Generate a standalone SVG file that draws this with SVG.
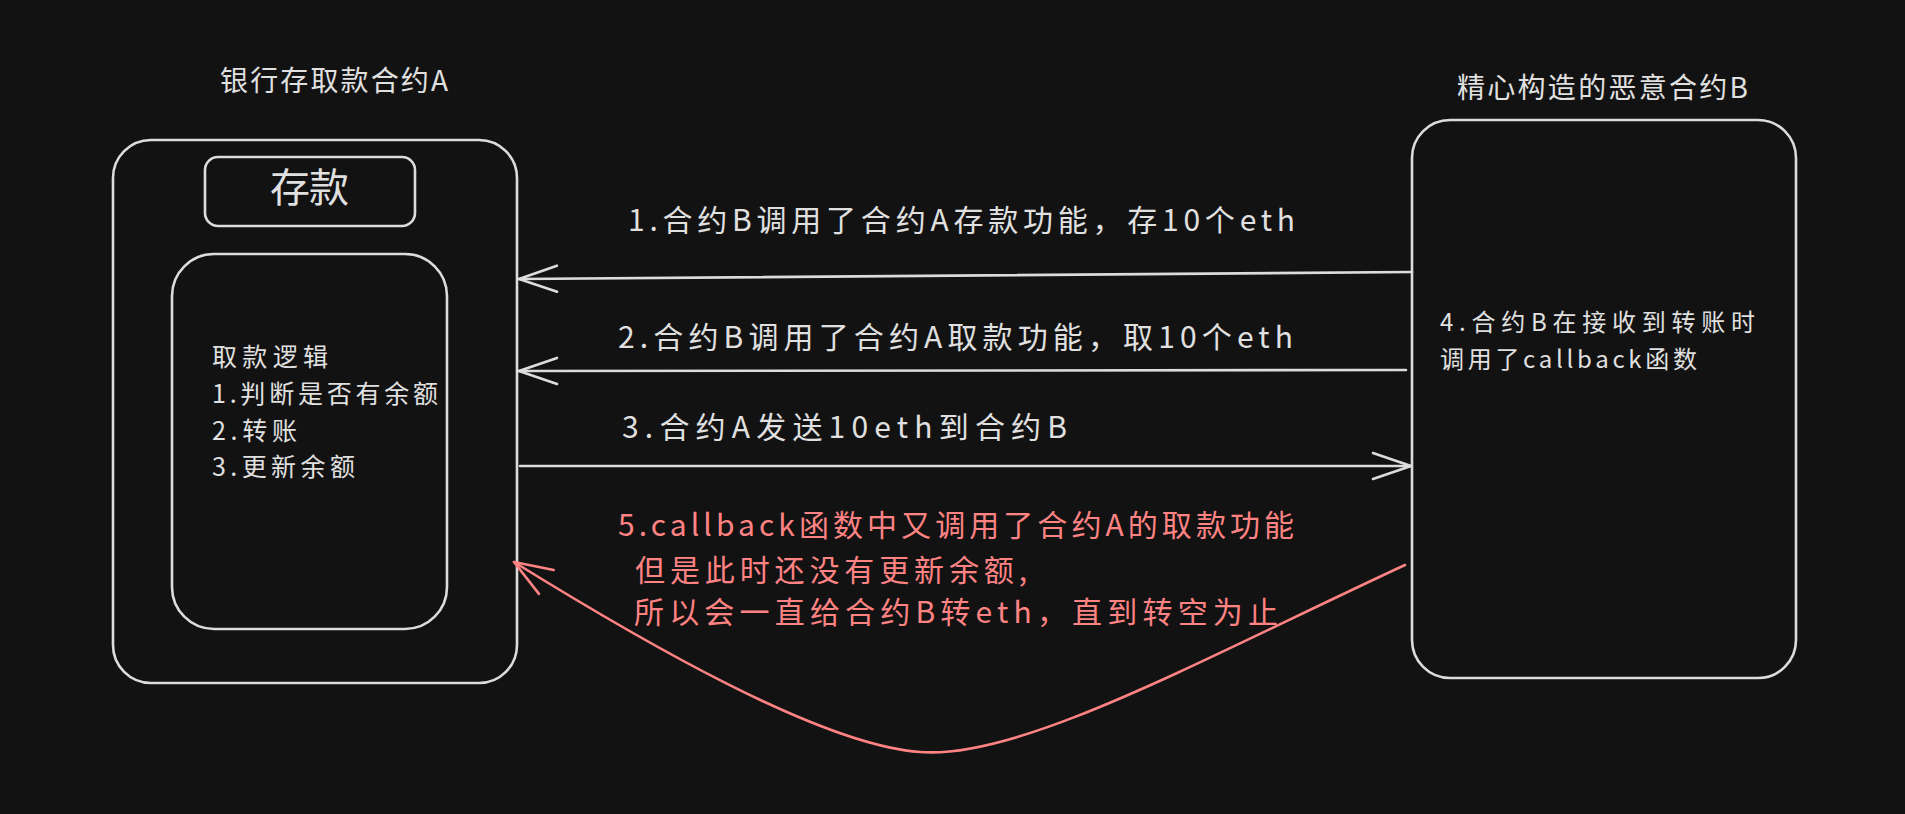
<svg xmlns="http://www.w3.org/2000/svg" width="1905" height="814" viewBox="0 0 1905 814">
  <defs>
    <style>
      .bg { fill: #121212; }
      .box { fill: none; stroke: #dcdcdc; stroke-width: 2.6; stroke-linejoin: round; }
      .edge { fill: none; stroke: #dcdcdc; stroke-width: 2.6; stroke-linecap: round; }
      .edge-red { fill: none; stroke: #ff8383; stroke-width: 2.6; stroke-linecap: round; }
      .t { font-family: "Noto Sans CJK SC", "Noto Sans", sans-serif; fill: #e0e0e0; font-size: 30px; }
      .t-title { font-size: 28px; }
      .t-body { font-size: 25px; }
      .t-sm { font-size: 24px; }
      .t-lg { font-size: 40px; }
      .t-red { fill: #ff8383; }
    </style>
    <marker id="arrow-gray" markerUnits="userSpaceOnUse" markerWidth="60" markerHeight="60" refX="0" refY="0" orient="auto" overflow="visible">
      <path d="M-38,-13 L0,0 L-38,13" fill="none" stroke="#dcdcdc" stroke-width="2.6" stroke-linecap="round" stroke-linejoin="round"/>
    </marker>
    <marker id="arrow-red" markerUnits="userSpaceOnUse" markerWidth="60" markerHeight="60" refX="0" refY="0" orient="auto" overflow="visible">
      <path d="M-38,-14 L0,0 L-38,14" fill="none" stroke="#ff8383" stroke-width="2.6" stroke-linecap="round" stroke-linejoin="round"/>
    </marker>
  </defs>

  <rect class="bg" x="0" y="0" width="1905" height="814"/>

  <g id="node-contract-a">
    <text class="t t-title" x="220" y="91" textLength="228" lengthAdjust="spacing">银行存取款合约A</text>
    <rect class="box" x="113" y="140" width="404" height="543" rx="38" ry="38"/>
  </g>

  <g id="node-deposit">
    <rect class="box" x="205" y="157" width="210" height="69" rx="13" ry="13"/>
    <text class="t t-lg" x="270" y="202" textLength="79" lengthAdjust="spacing">存款</text>
  </g>

  <g id="node-withdraw-logic">
    <rect class="box" x="172" y="254" width="275" height="375" rx="42" ry="42"/>
    <text class="t t-body" x="212" y="366" textLength="116" lengthAdjust="spacing">取款逻辑</text>
    <text class="t t-body" x="212" y="403" textLength="226" lengthAdjust="spacing">1.判断是否有余额</text>
    <text class="t t-body" x="212" y="440" textLength="85" lengthAdjust="spacing">2.转账</text>
    <text class="t t-body" x="212" y="476" textLength="143" lengthAdjust="spacing">3.更新余额</text>
  </g>

  <g id="node-contract-b">
    <text class="t t-title" x="1457" y="98" textLength="291" lengthAdjust="spacing">精心构造的恶意合约B</text>
    <rect class="box" x="1412" y="120" width="384" height="558" rx="38" ry="38"/>
    <text class="t t-sm" x="1440" y="331" textLength="315" lengthAdjust="spacing">4.合约B在接收到转账时</text>
    <text class="t t-sm" x="1440" y="368" textLength="257" lengthAdjust="spacing">调用了callback函数</text>
  </g>

  <g id="connectors">
    <path id="edge-1" class="edge" d="M1412,272 L519,279" marker-end="url(#arrow-gray)"/>
    <path id="edge-2" class="edge" d="M1406,370 L519,371" marker-end="url(#arrow-gray)"/>
    <path id="edge-3" class="edge" d="M520,466 L1411,466" marker-end="url(#arrow-gray)"/>
    <path id="edge-5" class="edge-red" d="M1405,565 C1200,660 1020,760 920,752 C820,745 640,640 514,562" marker-end="url(#arrow-red)"/>
  </g>

  <g id="edge-labels">
    <text class="t" x="628" y="231" textLength="667" lengthAdjust="spacing">1.合约B调用了合约A存款功能，存10个eth</text>
    <text class="t" x="618" y="348" textLength="675" lengthAdjust="spacing">2.合约B调用了合约A取款功能，取10个eth</text>
    <text class="t" x="622" y="438" textLength="445" lengthAdjust="spacing">3.合约A发送10eth到合约B</text>
    <text class="t t-red" x="618" y="536" textLength="676" lengthAdjust="spacing">5.callback函数中又调用了合约A的取款功能</text>
    <text class="t t-red" x="635" y="581" textLength="392" lengthAdjust="spacing">但是此时还没有更新余额,</text>
    <text class="t t-red" x="634" y="623" textLength="644" lengthAdjust="spacing">所以会一直给合约B转eth，直到转空为止</text>
  </g>
</svg>
